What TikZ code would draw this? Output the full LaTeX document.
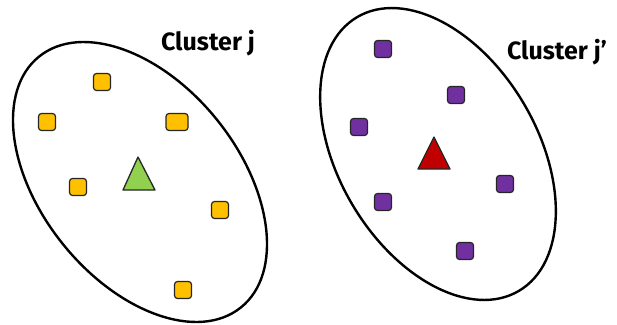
\documentclass[tikz,border=0pt]{standalone}
\usepackage{fontspec}
\setmainfont{Fira Sans}
\usetikzlibrary{shapes.geometric}
\definecolor{sqyellow}{HTML}{FFC000}
\definecolor{sqpurple}{HTML}{7030A0}
\definecolor{trigreen}{HTML}{92D050}
\definecolor{trired}{HTML}{C00000}
\definecolor{edge}{HTML}{262626}
\tikzset{
  cluster/.style={ellipse, draw=black, line width=2.4pt, inner sep=0pt},
  pt/.style={rectangle, rounded corners=3pt, draw=edge, line width=1.2pt, inner sep=0pt, minimum width=17pt, minimum height=17pt},
  ypt/.style={pt, fill=sqyellow},
  ppt/.style={pt, fill=sqpurple},
  tri/.style={draw=edge, line width=1.3pt, line join=round},
  lbl/.style={font=\fontsize{25}{28}\selectfont\bfseries, inner sep=0pt}
}
\begin{document}
\begin{tikzpicture}[x=1pt,y=-1pt]
\useasboundingbox (0,0) rectangle (617,324);
% left cluster
\node[cluster, minimum width=322pt, minimum height=198pt, rotate=-51.2] (cl1) at (140,182) {};
\node[ypt] (a1) at (102,82) {};
\node[ypt] (a2) at (47,122) {};
\node[ypt, minimum width=22pt] (a3) at (177,122) {};
\node[ypt] (a4) at (78,187) {};
\node[ypt] (a5) at (220,210) {};
\node[ypt] (a6) at (183,290) {};
\coordinate (c1) at (139,179);
\draw[tri, fill=trigreen] (138,157) -- (155,190) -- (123,190) -- cycle;
\node[lbl] (t1) at (208,43) {Cluster j};
% right cluster
\node[cluster, minimum width=318pt, minimum height=199pt, rotate=-59.4] (cl2) at (438,154) {};
\node[ppt] (b1) at (383,49) {};
\node[ppt] (b2) at (456,95) {};
\node[ppt] (b3) at (359,127) {};
\node[ppt] (b4) at (505,184) {};
\node[ppt] (b5) at (383,202) {};
\node[ppt] (b6) at (465,251) {};
\coordinate (c2) at (434,158);
\draw[tri, fill=trired] (434,137) -- (450,169) -- (418,169) -- cycle;
\node[lbl] (t2) at (557,52) {Cluster j’};
\end{tikzpicture}
\end{document}
